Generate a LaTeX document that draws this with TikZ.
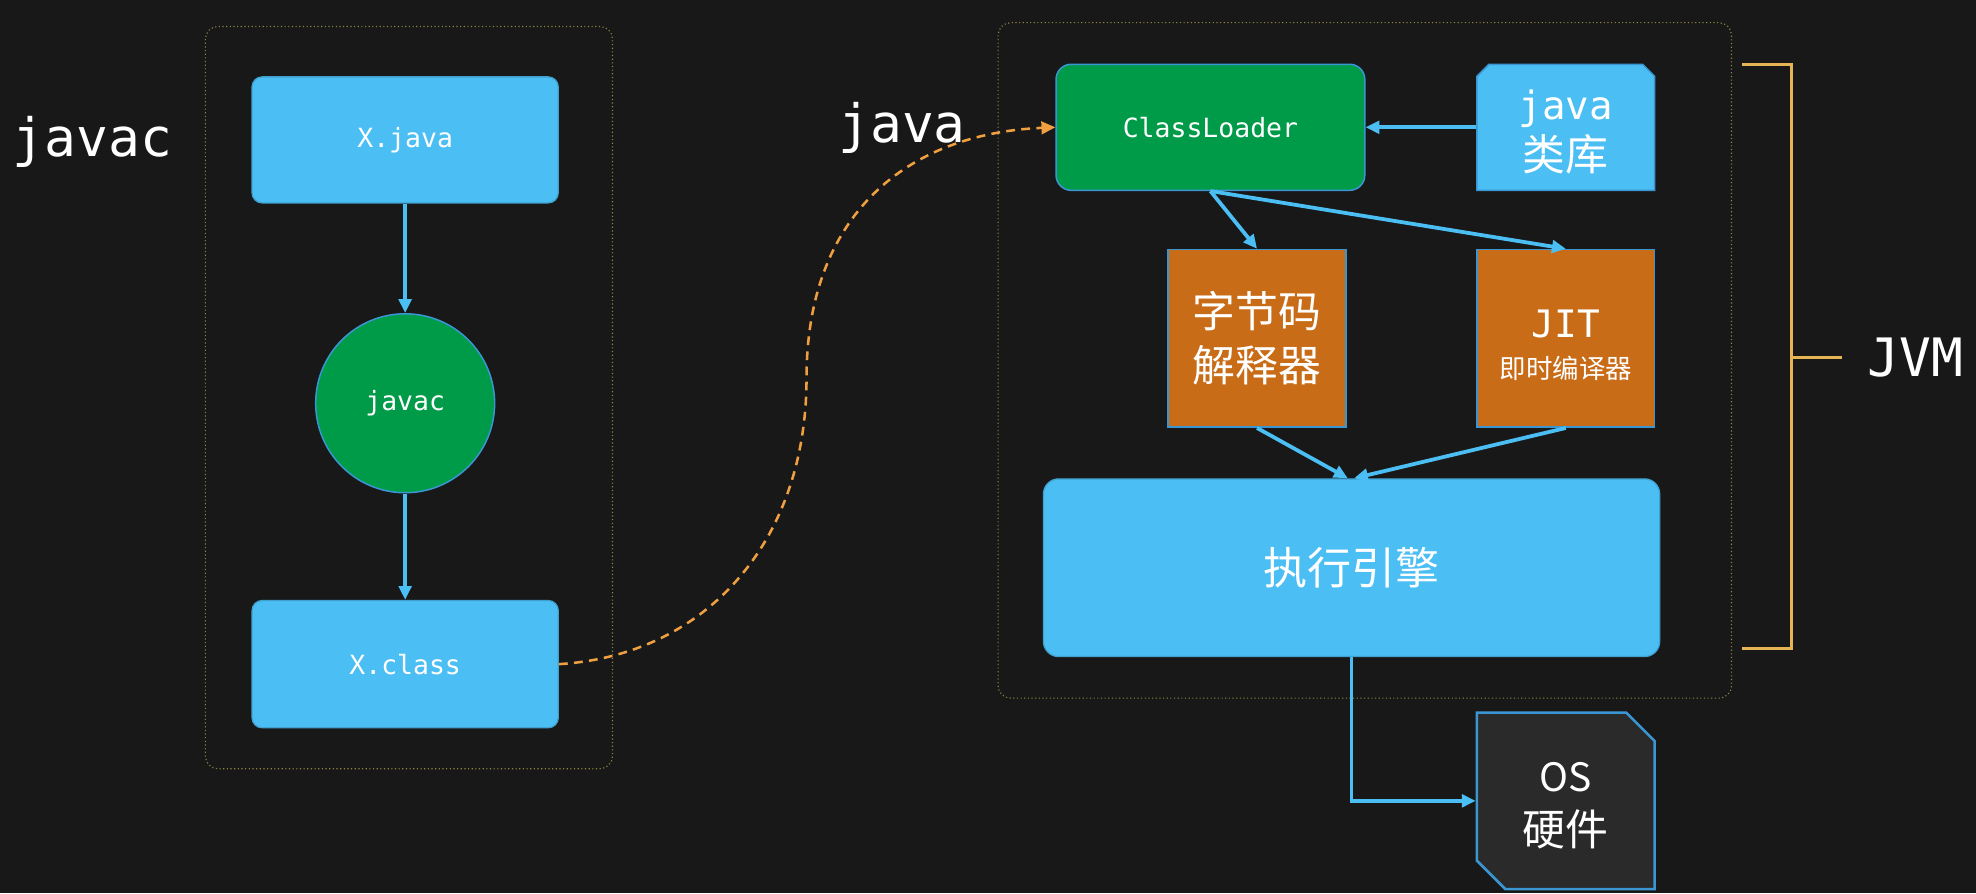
\documentclass[tikz,border=0pt]{standalone}
\usepackage{fontspec}
\setmonofont{DejaVu Sans Mono}
\newfontfamily\cjk{Noto Sans CJK SC}
\usetikzlibrary{arrows.meta,shapes.misc,calc}
\definecolor{bg}{HTML}{181818}
\definecolor{jblue}{HTML}{4BBEF4}
\definecolor{jborder}{HTML}{3A96D2}
\definecolor{jgreen}{HTML}{009B48}
\definecolor{jorange}{HTML}{C96C17}
\definecolor{osfill}{HTML}{2A2A2A}
\definecolor{dashorange}{HTML}{F0A040}
\definecolor{gold}{HTML}{E5B454}
\definecolor{frame}{HTML}{8E8742}
\begin{document}
\begin{tikzpicture}[x=1pt,y=-1pt,
  container/.style={draw=frame, line width=0.9pt, dotted, rounded corners=10pt},
  bluebox/.style={fill=jblue, draw=jblue!85!black, line width=1pt, rounded corners=8pt, text=white, inner sep=0pt},
  greenbox/.style={fill=jgreen, draw=jborder, line width=1.2pt, text=white, inner sep=0pt},
  orangebox/.style={fill=jorange, draw=jborder, line width=1.2pt, text=white, inner sep=0pt, minimum width=141pt, minimum height=141pt, align=center},
  monosmall/.style={font=\fontsize{21}{25}\selectfont\ttfamily},
  biglabel/.style={text=white, inner sep=0pt, font=\fontsize{42}{48}\selectfont\ttfamily},
  flow/.style={draw=jblue, line width=3pt, -{Triangle[length=11pt,width=10pt]}},
  dashflow/.style={draw=dashorange, line width=2pt, dash pattern=on 7pt off 5pt, -{Triangle[length=11pt,width=10pt]}},
  bracket/.style={draw=gold, line width=2.2pt}
]
\fill[bg] (0,0) rectangle (1568,709);
\useasboundingbox (0,0) rectangle (1568,709);

% containers
\draw[container] (163,21) rectangle (486,610);
\draw[container] (792,18) rectangle (1374,554);

% left labels
\node[biglabel, anchor=base west] (lblc) at (10,124) {javac};
\node[biglabel, anchor=base west] (lblj) at (665,113) {java};

% left column
\node[bluebox, monosmall, minimum width=243pt, minimum height=100pt] (xjava) at (321.5,111) {X.java};
\node[greenbox, monosmall, circle, minimum size=142pt] (javac) at (321.5,320) {javac};
\node[bluebox, monosmall, minimum width=243pt, minimum height=101pt] (xclass) at (321.5,527) {X.class};

\draw[flow] (xjava.south) -- (javac.north);
\draw[flow] (javac.south) -- (xclass.north);

% right side
\node[greenbox, monosmall, rounded corners=12pt, minimum width=245pt, minimum height=100pt] (cl) at (960.5,101) {ClassLoader};
\node[fill=jblue, draw=jborder, line width=1.2pt, text=white, inner sep=0pt,
      chamfered rectangle, chamfered rectangle corners={north west,north east},
      chamfered rectangle xsep=5pt, chamfered rectangle ysep=4.5pt,
      minimum width=141pt, minimum height=100pt, align=center] (lib) at (1242.5,101)
  {\rule{0pt}{31pt}{\fontsize{31}{31}\selectfont\ttfamily java}\\[5pt]{\fontsize{34}{34}\selectfont\cjk 类库}};

\node[orangebox, font=\fontsize{34}{43}\selectfont\cjk] (bci) at (997.5,268.5) {字节码\\解释器};
\node[orangebox] (jit) at (1242.5,268.5)
  {\rule{0pt}{33pt}{\fontsize{30}{30}\selectfont\ttfamily JIT}\\[13pt]{\fontsize{21}{21}\selectfont\cjk 即时编译器}};

\node[fill=jblue, draw=jblue!85!black, line width=1pt, rounded corners=12pt, text=white, inner sep=0pt,
      minimum width=489pt, minimum height=141pt, font=\fontsize{35}{40}\selectfont\cjk] (exec) at (1072.5,450.5) {执行引擎};

\node[fill=osfill, draw=jborder, line width=2pt, text=white, inner sep=0pt,
      chamfered rectangle, chamfered rectangle corners={north east,south west},
      chamfered rectangle xsep=11.5pt, chamfered rectangle ysep=11pt,
      minimum width=141pt, minimum height=140pt, align=center] (os) at (1242.5,635.5)
  {\rule{0pt}{31pt}{\fontsize{31}{31}\selectfont\cjk OS}\\[13pt]{\fontsize{34}{34}\selectfont\cjk 硬件}};

\draw[flow] (lib.west) -- (cl.east);
\draw[flow] (cl.south) -- (bci.north);
\draw[flow] (cl.south) -- (jit.north);
\draw[flow] (bci.south) -- ($(exec.north)+(-3,0)$);
\draw[flow] (jit.south) -- ($(exec.north)+(2,0)$);
\draw[flow] (exec.south) |- (os.west);

% dashed java arrow
\draw[dashflow] (xclass.east) .. controls (560,520) and (640,430) .. (640,300)
   .. controls (640,170) and (720,106) .. (cl.west);

% JVM bracket
\coordinate (bt) at (1382.6,51);
\coordinate (bb) at (1382.6,514.4);
\coordinate (bm) at (1461.8,283.6);
\draw[bracket] (bt) -- (1421.6,51) -- (1421.6,514.4) -- (bb);
\draw[bracket] (1421.6,283.6) -- (bm);
\node[biglabel, anchor=west] (jvm) at (1482,283.6) {JVM};
\end{tikzpicture}
\end{document}
